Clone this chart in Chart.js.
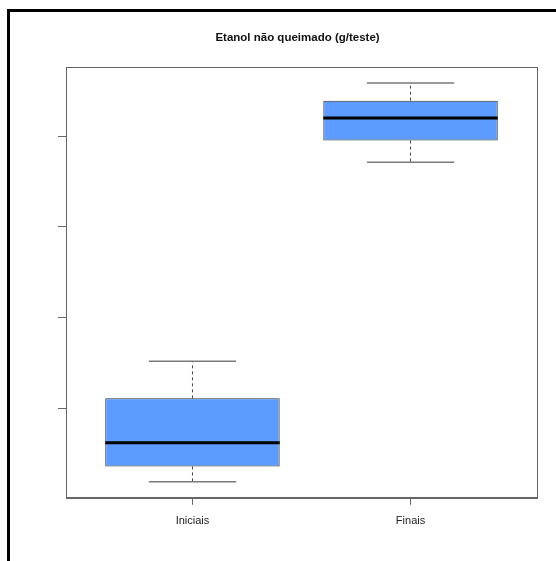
<!DOCTYPE html>
<html lang="pt">
<head>
  <meta charset="utf-8">
  <title>Etanol não queimado (g/teste)</title>
  <script src="https://cdn.jsdelivr.net/npm/chart.js"></script>
  <style>
    html, body { margin: 0; padding: 0; background: #fff; }
    #wrap { position: relative; width: 556px; height: 561px; overflow: hidden; }
    #frame {
      position: absolute; left: 7px; top: 9px; width: 600px; height: 600px;
      border-left: 3px solid #000; border-top: 3px solid #000;
    }
    canvas { position: absolute; left: 0; top: 0; }
  </style>
</head>
<body>
  <div id="wrap">
    <div id="frame"></div>
    <canvas id="chart" width="556" height="561"></canvas>
  </div>

  <script>
    // dados (escala do eixo y sem rótulos)
    const categorias = ['Iniciais', 'Finais'];
    const bigodeInf = [0.19, 3.71];
    const q1 = [0.36, 3.95];
    const mediana = [0.62, 4.20];
    const q3 = [1.11, 4.39];
    const bigodeSup = [1.52, 4.585];
    const yTicks = [1, 2, 3, 4];

    // limites como no R: intervalo dos dados +4%
    const lo = Math.min(...bigodeInf);
    const hi = Math.max(...bigodeSup);
    const folga = 0.04 * (hi - lo);

    const caixas = categorias.map((c, i) => ({ x: i + 1, y: [q1[i], q3[i]] }));

    const boxplotPlugin = {
      id: 'boxplot',
      afterDatasetsDraw(chart) {
        const ctx = chart.ctx;
        const xs = chart.scales.x;
        const ys = chart.scales.y;
        const meta = chart.getDatasetMeta(0);
        ctx.save();
        for (let i = 0; i < categorias.length; i++) {
          const x = xs.getPixelForValue(i + 1);
          const half = meta.data[i].width / 2;
          const cap = half / 2;
          const yLo = ys.getPixelForValue(bigodeInf[i]);
          const yQ1 = ys.getPixelForValue(q1[i]);
          const yQ3 = ys.getPixelForValue(q3[i]);
          const yHi = ys.getPixelForValue(bigodeSup[i]);
          const yMed = ys.getPixelForValue(mediana[i]);

          // bigodes tracejados
          ctx.strokeStyle = '#444';
          ctx.lineWidth = 1;
          ctx.setLineDash([3, 3]);
          ctx.beginPath();
          ctx.moveTo(x, yQ3); ctx.lineTo(x, yHi);
          ctx.moveTo(x, yQ1); ctx.lineTo(x, yLo);
          ctx.stroke();

          // extremos
          ctx.setLineDash([]);
          ctx.strokeStyle = '#7a7a7a';
          ctx.lineWidth = 1.5;
          ctx.beginPath();
          ctx.moveTo(x - cap, yHi); ctx.lineTo(x + cap, yHi);
          ctx.moveTo(x - cap, yLo); ctx.lineTo(x + cap, yLo);
          ctx.stroke();

          // mediana
          ctx.strokeStyle = '#000';
          ctx.lineWidth = 3;
          ctx.beginPath();
          ctx.moveTo(x - half, yMed); ctx.lineTo(x + half, yMed);
          ctx.stroke();
        }
        // moldura da área do gráfico
        const a = chart.chartArea;
        ctx.strokeStyle = '#666';
        ctx.lineWidth = 1;
        ctx.strokeRect(Math.round(a.left) + 0.5, Math.round(a.top) + 0.5,
          Math.round(a.right - a.left), Math.round(a.bottom - a.top));
        ctx.restore();
      }
    };

    new Chart(document.getElementById('chart'), {
      type: 'bar',
      data: {
        datasets: [{
          data: caixas,
          backgroundColor: '#5c9bff',
          borderColor: '#333',
          borderWidth: 1,
          borderSkipped: false,
          categoryPercentage: 1,
          barPercentage: 0.8
        }]
      },
      options: {
        responsive: false,
        animation: false,
        layout: { padding: { left: 58, right: 19, top: 0, bottom: 23 } },
        plugins: {
          legend: { display: false },
          tooltip: { enabled: false },
          title: {
            display: true,
            text: 'Etanol não queimado (g/teste)',
            color: '#111',
            font: { family: '"Liberation Sans", Arial, sans-serif', size: 11.5, weight: 'bold' },
            padding: { top: 30.7, bottom: 22.5 }
          }
        },
        scales: {
          x: {
            type: 'linear',
            min: 0.42,
            max: 2.58,
            offset: false,
            afterBuildTicks: (s) => { s.ticks = categorias.map((c, i) => ({ value: i + 1 })); },
            ticks: {
              callback: (v, i) => categorias[i],
              color: '#222',
              padding: 10,
              maxRotation: 0,
              font: { family: '"Liberation Sans", Arial, sans-serif', size: 11 }
            },
            grid: { display: true, offset: false, drawOnChartArea: false, drawTicks: true, tickLength: 7, color: '#666' },
            border: { display: true, color: '#666' }
          },
          y: {
            min: lo - folga,
            max: hi + folga,
            afterBuildTicks: (s) => { s.ticks = yTicks.map(v => ({ value: v })); },
            ticks: { display: false },
            grid: { display: true, drawOnChartArea: false, drawTicks: true, tickLength: 8, color: '#666' },
            border: { display: true, color: '#666' }
          }
        }
      },
      plugins: [boxplotPlugin]
    });
  </script>
</body>
</html>
